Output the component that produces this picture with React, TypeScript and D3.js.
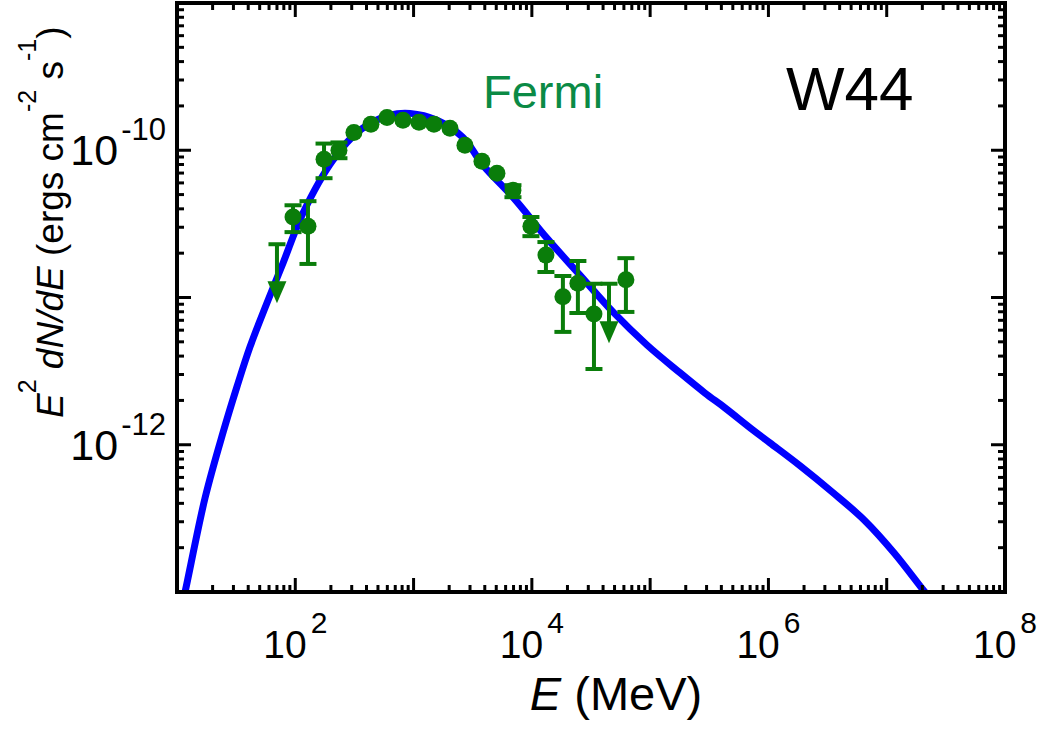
import React from 'react';
import * as d3 from 'd3';

const WIDTH = 1042;
const HEIGHT = 736;

// Fermi-LAT spectral points (E in MeV, E^2 dN/dE in erg cm^-2 s^-1)
const FERMI_E = [95.7, 128, 175, 234, 313, 436, 596, 813, 1111, 1487, 2031, 2718, 3785, 5070, 6920, 9820, 13150, 18300, 24500, 33500, 62400];
const FERMI_FLUX = [3.52e-11, 3.05e-11, 8.69e-11, 1.0e-10, 1.32e-10, 1.5e-10, 1.67e-10, 1.6e-10, 1.55e-10, 1.5e-10, 1.41e-10, 1.08e-10, 8.42e-11, 6.98e-11, 5.36e-11, 3.05e-11, 1.94e-11, 1.01e-11, 1.25e-11, 7.73e-12, 1.32e-11];
const FERMI_HI = [4.23e-11, 4.51e-11, 1.11e-10, 1.13e-10, null, null, null, null, null, null, null, null, null, null, 5.79e-11, 3.52e-11, 2.38e-11, 1.4e-11, 1.77e-11, 1.24e-11, 1.85e-11];
const FERMI_LO = [2.78e-11, 1.69e-11, 6.46e-11, 8.83e-11, null, null, null, null, null, null, null, null, null, null, 4.8e-11, 2.61e-11, 1.49e-11, 5.84e-12, 7.85e-12, 3.27e-12, 7.98e-12];

// upper limits: bar top and arrow head
const UL_E = [70, 44900];
const UL_TOP = [2.3e-11, 1.24e-11];
const UL_ARROW = [1.12e-11, 6.0e-12];

// model spectrum
const MODEL_E = [10.8, 11.7, 17.3, 24.5, 32.1, 41.4, 57.6, 78.7, 116, 208, 352, 632, 933, 1578, 2618, 3864, 6918, 13400, 25500, 48500, 94000, 179000, 290000, 429000, 739000, 1.03e6, 1.85e6, 3.51e6, 6.54e6, 1.17e7, 2.02e7, 2.37e7];
const MODEL_FLUX = [7.6e-14, 1.0e-13, 4.38e-13, 1.21e-12, 2.47e-12, 4.62e-12, 9.18e-12, 1.71e-11, 3.74e-11, 8.56e-11, 1.37e-10, 1.73e-10, 1.78e-10, 1.6e-10, 1.22e-10, 7.91e-11, 4.8e-11, 2.53e-11, 1.42e-11, 7.98e-12, 4.76e-12, 3.08e-12, 2.25e-12, 1.78e-12, 1.26e-12, 1.03e-12, 7.2e-13, 4.73e-13, 3.05e-13, 1.82e-13, 1.04e-13, 8.9e-14];

const X_LABELS = [2, 4, 6, 8];
const Y_LABELS = [-10, -12];

const FONT = '"Liberation Sans", Arial, sans-serif';
const GREEN = '#0a7d0a';

export default function App() {
  const x = d3.scaleLog().domain([10, 1e8]).range([177, 1005]);
  const y = d3.scaleLog().domain([1e-13, 1e-9]).range([592, 3]);
  const [x0, x1] = x.range();
  const [y0, y1] = y.range();

  const line = d3
    .line<number>()
    .x((d, i) => x(MODEL_E[i]))
    .y((d) => y(d))
    .curve(d3.curveCatmullRom);

  const isMajor = (v: number) => Math.abs(Math.log10(v) - Math.round(Math.log10(v))) < 1e-6;
  const xTicks = x.ticks();
  const yTicks = y.ticks();

  const cap = 8.5;

  return (
    <div style={{ position: 'absolute', left: 0, top: 0 }}>
      <svg width={WIDTH} height={HEIGHT} style={{ display: 'block', background: '#fff' }} fontFamily={FONT}>
        <defs>
          <clipPath id="plot-area">
            <rect x={x0} y={y1} width={x1 - x0} height={y0 - y1} />
          </clipPath>
        </defs>

        {/* model curve */}
        <path d={line(MODEL_FLUX) || ''} fill="none" stroke="#0000ff" strokeWidth={7} clipPath="url(#plot-area)" />

        {/* error bars */}
        {FERMI_E.map((e, i) =>
          FERMI_HI[i] == null ? null : (
            <g key={`eb${i}`} stroke={GREEN} strokeWidth={4}>
              <line x1={x(e)} x2={x(e)} y1={y(FERMI_HI[i] as number)} y2={y(FERMI_LO[i] as number)} />
              <line x1={x(e) - cap} x2={x(e) + cap} y1={y(FERMI_HI[i] as number)} y2={y(FERMI_HI[i] as number)} />
              <line x1={x(e) - cap} x2={x(e) + cap} y1={y(FERMI_LO[i] as number)} y2={y(FERMI_LO[i] as number)} />
            </g>
          )
        )}

        {/* upper limits */}
        {UL_E.map((e, i) => {
          const cx = x(e);
          const cy = y(UL_ARROW[i]);
          return (
            <g key={`ul${i}`}>
              <line x1={cx} x2={cx} y1={y(UL_TOP[i])} y2={cy} stroke={GREEN} strokeWidth={4} />
              <line x1={cx - cap} x2={cx + cap} y1={y(UL_TOP[i])} y2={y(UL_TOP[i])} stroke={GREEN} strokeWidth={4} />
              <path d={`M${cx - 9.5},${cy - 9} L${cx + 9.5},${cy - 9} L${cx},${cy + 13} Z`} fill={GREEN} />
            </g>
          );
        })}

        {/* data points */}
        {FERMI_E.map((e, i) => (
          <circle key={`pt${i}`} cx={x(e)} cy={y(FERMI_FLUX[i])} r={8.5} fill={GREEN} />
        ))}

        {/* ticks on all four sides */}
        <g stroke="#000" strokeWidth={3}>
          {xTicks.map((t, i) => {
            const len = isMajor(t) ? 14 : 7;
            return (
              <g key={`xt${i}`}>
                <line x1={x(t)} x2={x(t)} y1={y0} y2={y0 - len} />
                <line x1={x(t)} x2={x(t)} y1={y1} y2={y1 + len} />
              </g>
            );
          })}
          {yTicks.map((t, i) => {
            const len = isMajor(t) ? 14 : 7;
            return (
              <g key={`yt${i}`}>
                <line x1={x0} x2={x0 + len} y1={y(t)} y2={y(t)} />
                <line x1={x1} x2={x1 - len} y1={y(t)} y2={y(t)} />
              </g>
            );
          })}
        </g>
        <rect x={x0} y={y1} width={x1 - x0} height={y0 - y1} fill="none" stroke="#000" strokeWidth={4} />

        {/* tick labels */}
        {X_LABELS.map((p) => (
          <text key={`xl${p}`} x={x(Math.pow(10, p))} y={658} textAnchor="middle" fontSize={39}>
            10<tspan dx={4} dy={-25} fontSize={30}>{p}</tspan>
          </text>
        ))}
        {Y_LABELS.map((p) => (
          <text key={`yl${p}`} x={166} y={y(Math.pow(10, p)) + 15} textAnchor="end" fontSize={43}>
            10<tspan dx={3} dy={-25} fontSize={31}>{p}</tspan>
          </text>
        ))}

        {/* axis titles */}
        <text x={616} y={710} textAnchor="middle" fontSize={47}>
          <tspan fontStyle="italic">E</tspan> (MeV)
        </text>
        <text transform="translate(63,418) rotate(-90)" fontSize={37}>
          <tspan fontStyle="italic">E</tspan>
          <tspan dy={-27} fontSize={25}>2</tspan>
          <tspan dy={27} fontStyle="italic"> dN/dE</tspan>
          <tspan> (ergs cm</tspan>
          <tspan dy={-27} fontSize={25}>-2</tspan>
          <tspan dy={27}> s</tspan>
          <tspan dy={-27} fontSize={25}>-1</tspan>
          <tspan dy={27}>)</tspan>
        </text>

        {/* annotations */}
        <text x={483} y={108} fontSize={47} fill="#0b8a45">Fermi</text>
        <text x={786} y={110} fontSize={62} fill="#000">W44</text>
      </svg>
    </div>
  );
}
